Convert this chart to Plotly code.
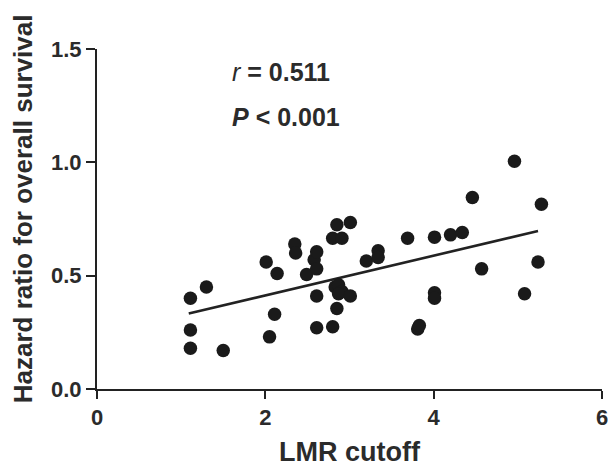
import plotly.graph_objects as go

lmr_cutoff = [1.11, 1.30, 1.11, 1.11, 1.50, 2.01, 2.14, 2.11, 2.05, 2.35,
              2.36, 2.49, 2.58, 2.61, 2.61, 2.61, 2.61, 2.80, 2.91, 2.85,
              3.01, 2.83, 2.87, 2.91, 2.87, 3.01, 2.85, 2.80, 3.20, 3.34,
              3.34, 3.69, 4.01, 4.20, 4.34, 4.46, 4.96, 5.28, 5.24, 4.57,
              5.08, 4.01, 4.01, 3.81, 3.83]
hazard_ratio = [0.40, 0.45, 0.26, 0.18, 0.17, 0.56, 0.51, 0.33, 0.23, 0.64,
                0.60, 0.505, 0.57, 0.605, 0.53, 0.41, 0.27, 0.665, 0.665, 0.725,
                0.735, 0.45, 0.46, 0.43, 0.42, 0.41, 0.355, 0.275, 0.565, 0.61,
                0.58, 0.665, 0.67, 0.68, 0.69, 0.845, 1.005, 0.815, 0.56, 0.53,
                0.42, 0.425, 0.40, 0.265, 0.28]

fit_x = [1.09, 5.24]
fit_y = [0.333, 0.697]

x_ticks = [0, 2, 4, 6]
y_ticks = [0.0, 0.5, 1.0, 1.5]
y_tick_labels = ["0.0", "0.5", "1.0", "1.5"]

stats_text = ["<i>r</i><b> = 0.511</b>", "<b><i>P</i> < 0.001</b>"]
stats_x = [1.58, 1.58]
stats_y = [1.40, 1.20]

x_title = "<b>LMR cutoff</b>"
y_title = "<b>Hazard ratio for overall survival</b>"

FONT = "Liberation Sans, Arial, sans-serif"
INK = "#222222"
TXT = "#2b2b2b"

fig = go.Figure()
fig.add_trace(go.Scatter(x=fit_x, y=fit_y, mode="lines",
                         line=dict(color=INK, width=2.6), hoverinfo="skip"))
fig.add_trace(go.Scatter(x=lmr_cutoff, y=hazard_ratio, mode="markers",
                         marker=dict(color="#1a1a1a", size=13.5, line=dict(width=0))))

for t, xx, yy in zip(stats_text, stats_x, stats_y):
    fig.add_annotation(x=xx, y=yy, text=t, showarrow=False, xanchor="left",
                       yanchor="middle", font=dict(family=FONT, size=25, color=TXT))

fig.add_annotation(xref="paper", yref="paper", x=-0.145, y=0.531, text=y_title,
                   textangle=-90, showarrow=False, xanchor="center", yanchor="middle",
                   font=dict(family=FONT, size=26, color=TXT))

# page body has an 8px default margin, so the figure is sized to fit the window
fig.update_layout(
    width=608, height=463,
    margin=dict(l=89, r=8, t=41, b=82),
    paper_bgcolor="white", plot_bgcolor="white",
    showlegend=False,
    font=dict(family=FONT, color=TXT),
)
fig.update_xaxes(range=[0, 6], tickvals=x_ticks, showline=True, linecolor=INK,
                 linewidth=2, ticks="outside", ticklen=8, tickwidth=2, tickcolor=INK,
                 showgrid=False, zeroline=False,
                 tickfont=dict(family=FONT, size=22, color=TXT, weight="bold"),
                 title=dict(text=x_title, standoff=13,
                            font=dict(family=FONT, size=27, color=TXT)))
fig.update_yaxes(range=[0, 1.5], tickvals=y_ticks, ticktext=y_tick_labels,
                 showline=True, linecolor=INK,
                 linewidth=2, ticks="outside", ticklen=9, tickwidth=2, tickcolor=INK,
                 showgrid=False, zeroline=False,
                 tickfont=dict(family=FONT, size=22, color=TXT, weight="bold"))

fig.write_html("out.html")
